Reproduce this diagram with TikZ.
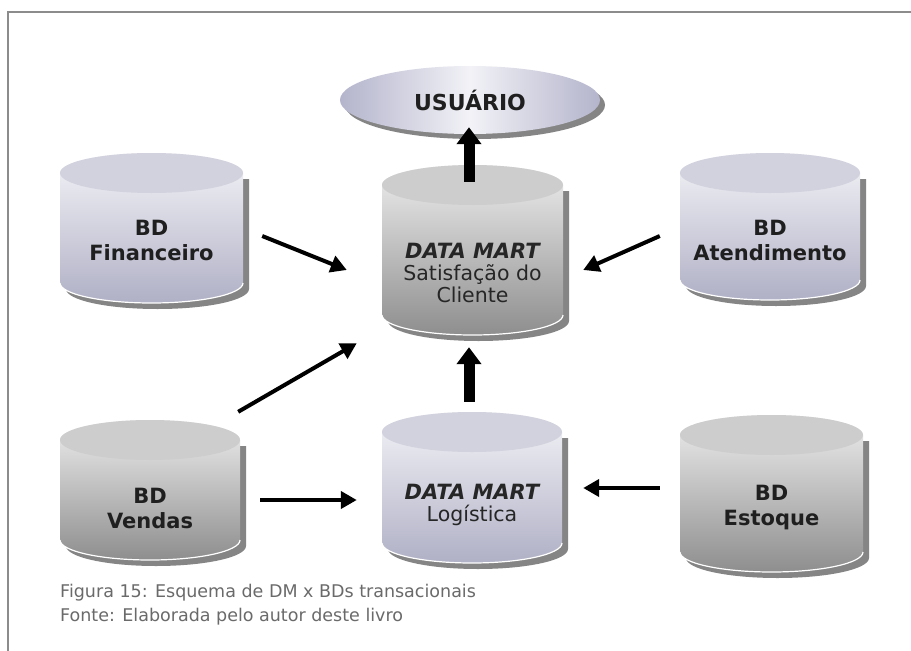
\documentclass[tikz,border=0pt]{standalone}
\usepackage{fontspec}
\setmainfont{DejaVu Sans}
\usetikzlibrary{arrows.meta,calc,shapes.geometric}
\definecolor{lavtop}{HTML}{D2D2DE}
\definecolor{lavlight}{HTML}{F4F4F8}
\definecolor{lavdark}{HTML}{B0B0C6}
\definecolor{graytop}{HTML}{CDCDCD}
\definecolor{graylight}{HTML}{EEEEEE}
\definecolor{graydark}{HTML}{8E8E8E}
\definecolor{shadowc}{HTML}{858585}
\definecolor{captc}{HTML}{6A6A6A}
\definecolor{framec}{HTML}{8C8C8C}
\definecolor{usrside}{HTML}{B4B4CC}
\definecolor{usrmid}{HTML}{F2F2F7}
% #1 L, #2 R, #3 T, #4 B (pixels, downward), #5 top colour, #6 body top, #7 body bottom, #8 name
\newcommand\dbcyl[8]{%
  \pgfmathsetmacro\cyL{#1}\pgfmathsetmacro\cyR{#2}%
  \pgfmathsetmacro\cyT{-(#3)-20}\pgfmathsetmacro\cyB{-(#4)+20}%
  \pgfmathsetmacro\cyX{((#1)+(#2))/2}\pgfmathsetmacro\cyRx{((#2)-(#1))/2}%
  \pgfmathsetmacro\cyW{(#2)-(#1)}\pgfmathsetmacro\cyH{(#4)-(#3)}%
  \pgfmathsetmacro\cyMy{-((#3)+(#4))/2}%
  \fill[shadowc, shift={(6,-6)}] (\cyL,\cyT) -- (\cyL,\cyB)
     arc[start angle=180,end angle=360,x radius=\cyRx pt,y radius=20pt] -- (\cyR,\cyT) -- cycle;
  \shade[top color=#6,bottom color=#7] (\cyL,\cyT) -- (\cyL,\cyB)
     arc[start angle=180,end angle=360,x radius=\cyRx pt,y radius=20pt] -- (\cyR,\cyT)
     arc[start angle=0,end angle=180,x radius=\cyRx pt,y radius=20pt] -- cycle;
  \draw[white,line width=1.2pt] (\cyL,\cyB)
     arc[start angle=180,end angle=360,x radius=\cyRx pt,y radius=20pt];
  \fill[#5] (\cyX,\cyT) ellipse[x radius=\cyRx pt,y radius=20pt];
  \node[inner sep=0pt,minimum width=\cyW pt,minimum height=\cyH pt] (#8) at (\cyX,\cyMy) {};
}
\tikzset{
  lbl/.style={font=\bfseries\fontsize{21}{25}\selectfont,align=center,text=black!88},
  dmlbl/.style={font=\fontsize{20.5}{22}\selectfont,align=center,text=black!85},
  caption/.style={font=\fontsize{17.5}{20}\selectfont,text=captc,anchor=base west,inner sep=0pt},
  thinarrow/.style={line width=4pt,-{Triangle[width=17pt,length=16pt]}},
  thickarrow/.style={line width=11pt,-{Triangle[width=24pt,length=17pt]}},
}
\begin{document}
\begin{tikzpicture}[x=1pt,y=1pt]
\useasboundingbox (0,0) rectangle (911,-651);
\fill[white] (0,0) rectangle (911,-651);
\draw[framec,line width=2.5pt] (8,-651) -- (8,-12) -- (911,-12);

% cylinders
\dbcyl{60}{243}{153}{303}{lavtop}{lavlight}{lavdark}{fin}
\dbcyl{680}{860}{153}{300}{lavtop}{lavlight}{lavdark}{atd}
\dbcyl{382}{563}{165}{335}{graytop}{graylight}{graydark}{sat}
\dbcyl{382}{562}{412}{563}{lavtop}{lavlight}{lavdark}{log}
\dbcyl{60}{240}{420}{560}{graytop}{graylight}{graydark}{ven}
\dbcyl{680}{863}{415}{572}{graytop}{graylight}{graydark}{est}

% user ellipse
\fill[shadowc] (475,-105) ellipse[x radius=130pt,y radius=34pt];
\node[ellipse,minimum width=260pt,minimum height=68pt,inner sep=0pt,
      left color=usrside,right color=usrside,middle color=usrmid,lbl,
      font=\bfseries\fontsize{22}{25}\selectfont] (usr) at (470,-100) {USUÁRIO};

% labels
\node[lbl] (fint) at (151.5,-240) {BD\\Financeiro};
\node[lbl] (atdt) at (770,-240) {BD\\Atendimento};
\node[dmlbl] (satt) at (472.5,-273) {{\bfseries\itshape\fontsize{21}{22}\selectfont DATA MART}\\Satisfação do\\Cliente};
\node[dmlbl] (logt) at (472,-505) {{\bfseries\itshape\fontsize{21}{22}\selectfont DATA MART}\\Logística};
\node[lbl] (vent) at (150,-508) {BD\\Vendas};
\node[lbl] (estt) at (771.5,-508) {BD\\Estoque};

% arrows
\draw[thinarrow] ($(fin.east)+(19,-8)$) -- ($(sat.west)+(-35,-20)$);
\draw[thinarrow] ($(atd.west)+(-20,-9.5)$) -- ($(sat.east)+(20,-20)$);
\draw[thinarrow] ($(ven.north east)+(-2,8)$) -- ($(sat.south west)+(-25,-8)$);
\draw[thinarrow] ($(ven.east)+(20,-10)$) -- ($(log.west)+(-25,-12.5)$);
\draw[thinarrow] ($(est.west)+(-20,5.5)$) -- ($(log.east)+(21,-0.5)$);
\draw[thickarrow] ($(sat.north)+(-3.5,-17)$) -- ($(usr.south)+(-1,7)$);
\draw[thickarrow] ($(log.north)+(-3,10)$) -- ($(sat.south)+(-3.5,-12)$);

% caption
\node[caption] (cap1) at (60,-597) {Figura 15: Esquema de DM x BDs transacionais};
\node[caption] (cap2) at (60,-621) {Fonte: Elaborada pelo autor deste livro};
\end{tikzpicture}
\end{document}
